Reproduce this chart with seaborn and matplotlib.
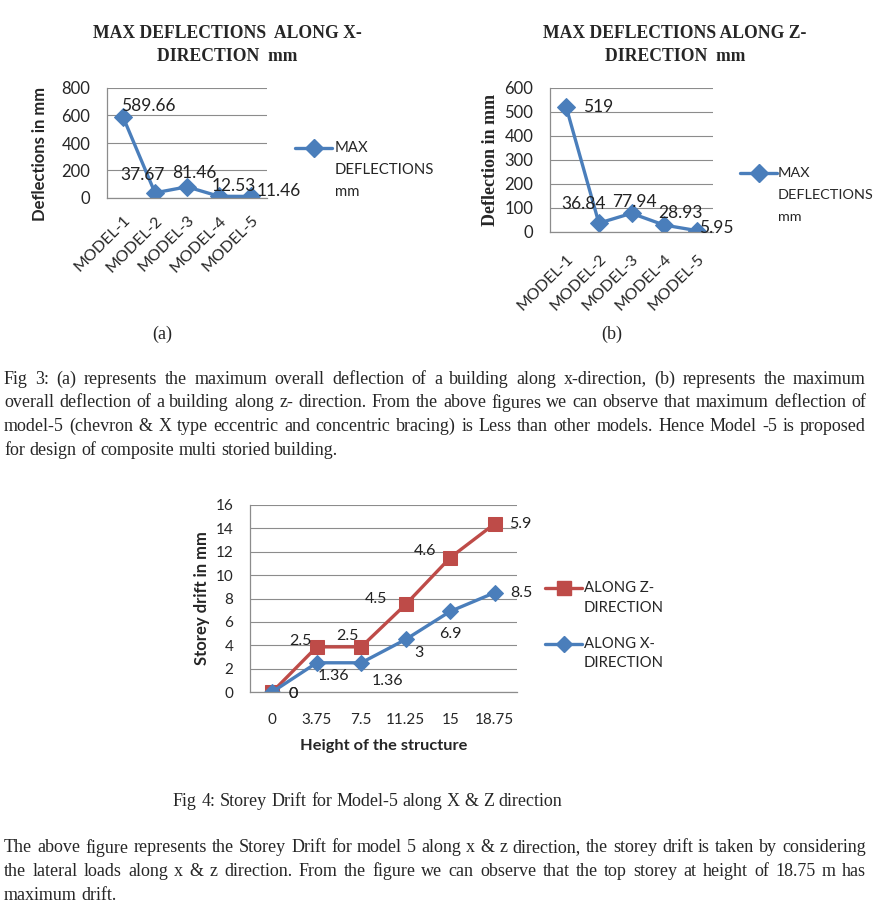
import matplotlib
matplotlib.use("Agg")
import matplotlib.pyplot as plt
from matplotlib.lines import Line2D
import seaborn as sns
import numpy as np

# chart data
models = ["MODEL-1", "MODEL-2", "MODEL-3", "MODEL-4", "MODEL-5"]
defl_x = [589.66, 37.67, 81.46, 12.53, 11.46]
defl_z = [519, 36.84, 77.94, 28.93, 5.95]

heights = ["0", "3.75", "7.5", "11.25", "15", "18.75"]
drift_x = [0, 2.5, 2.5, 4.5, 6.9, 8.5]
drift_z = [0, 1.36, 1.36, 3, 4.6, 5.9]   # stacked on top of drift_x
labels_z = ["0", "2.5", "2.5", "4.5", "4.6", "5.9"]
labels_x = ["0", "1.36", "1.36", "3", "6.9", "8.5"]

BLUE = "#4A7EBB"
RED = "#BE4B48"
GRID = "#8C8C8C"
W, H = 876, 909

sns.set_style("white")
plt.rcParams["font.family"] = ["Lato", "DejaVu Sans"]
SERIF = ["Liberation Serif", "DejaVu Serif"]

fig = plt.figure(figsize=(W / 100, H / 100), dpi=100)


def px_axes(l, t, r, b):
    return fig.add_axes([l / W, 1 - b / H, (r - l) / W, (b - t) / H])


def style_axes(ax, ymax, ystep, n, ticks_below, fs=11):
    ax.set_ylim(0, ymax)
    ax.set_yticks(np.arange(0, ymax + ystep / 2, ystep))
    ax.set_xlim(-0.5, n - 0.5)
    ax.grid(axis="y", color=GRID, linewidth=0.8)
    ax.grid(axis="x", visible=False)
    for s in ["top", "right"]:
        ax.spines[s].set_visible(False)
    for s in ["left", "bottom"]:
        ax.spines[s].set_color(GRID)
        ax.spines[s].set_linewidth(0.9)
    ax.tick_params(axis="y", length=4, color=GRID, pad=8, labelsize=fs)
    ax.tick_params(axis="x", which="major", length=0, labelsize=fs)
    if ticks_below:
        ax.set_xticks(np.arange(-0.5, n, 1.0), minor=True)
        ax.tick_params(axis="x", which="minor", length=6, color=GRID, direction="out")
    ax.set_xlabel("")
    ax.set_ylabel("")


def annotate(ax, xs, ys, texts, offsets, fs=12):
    for x, y, t, (dx, dy) in zip(xs, ys, texts, offsets):
        ax.annotate(t, (x, y), xytext=(dx, dy), textcoords="offset pixels",
                    ha="center", va="center", fontsize=fs, color="#222222")


def legend_entry(x0, x1, y, color, marker, ms, lines, tx, fs=10.7, dy=22):
    fy = 1 - y / H
    fig.add_artist(Line2D([x0 / W, x1 / W], [fy, fy], transform=fig.transFigure,
                          color=color, lw=2.4))
    fig.add_artist(Line2D([(x0 + x1) / 2 / W], [fy], transform=fig.transFigure,
                          color=color, marker=marker, ms=ms, ls="none"))
    for i, ln in enumerate(lines):
        fig.text(tx / W, 1 - (y + i * dy) / H, ln, ha="left", va="center", fontsize=fs)


# ---------- (a) max deflection along X ----------
ax1 = px_axes(107, 88, 267, 198)
pos = np.arange(len(models))
sns.lineplot(x=pos, y=defl_x, ax=ax1, color=BLUE, linewidth=2.4, marker="D",
             markersize=9, markeredgecolor=BLUE)
style_axes(ax1, 800, 200, 5, False, fs=12)
ax1.set_xticks(pos)
ax1.set_xticklabels(models, rotation=45, ha="right", rotation_mode="anchor", fontsize=11.5)
ax1.tick_params(axis="x", pad=11)
annotate(ax1, pos, defl_x, [f"{v:g}" for v in defl_x],
         [(25, 11), (-12, 18), (7, 14), (15, 10), (28, 5)], fs=12.5)
legend_entry(295, 332, 148, BLUE, "D", 9, ["MAX", "DEFLECTIONS", "mm"], 335)
fig.text(40 / W, 1 - 154 / H, "Deflections in mm", rotation=90, ha="center",
         va="center", fontsize=12, fontweight="bold")
fig.text(227 / W, 1 - 45 / H, "MAX DEFLECTIONS  ALONG X-\nDIRECTION  mm",
         ha="center", va="center", family=SERIF, fontsize=12.7,
         fontweight="bold", linespacing=1.4)

# ---------- (b) max deflection along Z ----------
ax2 = px_axes(550, 88, 713, 232)
sns.lineplot(x=pos, y=defl_z, ax=ax2, color=BLUE, linewidth=2.4, marker="D",
             markersize=9, markeredgecolor=BLUE)
style_axes(ax2, 600, 100, 5, True, fs=12)
ax2.set_xticks(pos)
ax2.set_xticklabels(models, rotation=45, ha="right", rotation_mode="anchor", fontsize=11.5)
ax2.tick_params(axis="x", pad=14)
annotate(ax2, pos, defl_z, [f"{v:g}" for v in defl_z],
         [(32, 0), (-15, 19), (3, 11), (16, 12), (20, 3)], fs=12.5)
legend_entry(740, 777, 173, BLUE, "D", 9, ["MAX", "DEFLECTIONS", "mm"], 778, fs=10.4)
fig.text(490 / W, 1 - 160 / H, "Deflection in mm", rotation=90, ha="center",
         va="center", family=SERIF, fontsize=13, fontweight="bold")
fig.text(675 / W, 1 - 45 / H, "MAX DEFLECTIONS ALONG Z-\nDIRECTION  mm",
         ha="center", va="center", family=SERIF, fontsize=12.7,
         fontweight="bold", linespacing=1.4)

fig.text(162 / W, 1 - 334 / H, "(a)", ha="center", va="center", family=SERIF, fontsize=13)
fig.text(612 / W, 1 - 334 / H, "(b)", ha="center", va="center", family=SERIF, fontsize=13)

# ---------- storey drift ----------
ax3 = px_axes(250, 505, 517, 692)
hpos = np.arange(len(heights))
top_z = np.array(drift_x) + np.array(drift_z)
sns.lineplot(x=hpos, y=top_z, ax=ax3, color=RED, linewidth=2.4, marker="s",
             markersize=10, markeredgecolor=RED)
sns.lineplot(x=hpos, y=drift_x, ax=ax3, color=BLUE, linewidth=2.4, marker="D",
             markersize=8, markeredgecolor=BLUE)
style_axes(ax3, 16, 2, 6, True, fs=11)
ax3.set_xticks(hpos)
ax3.set_xticklabels(heights)
ax3.tick_params(axis="x", pad=15)
annotate(ax3, hpos, top_z, labels_z,
         [(21, -2), (-16, 6), (-14, 11), (-30, 5), (-25, 7), (26, 0)], fs=11.5)
annotate(ax3, hpos, drift_x, labels_x,
         [(21, -2), (17, -13), (26, -18), (13, -14), (0, -23), (27, 0)], fs=11.5)
legend_entry(545, 582, 588, RED, "s", 10, ["ALONG Z-", "DIRECTION"], 584, dy=20)
legend_entry(545, 582, 644, BLUE, "D", 8, ["ALONG X-", "DIRECTION"], 584, dy=19)
ax3.set_ylabel("Storey drift in mm", fontsize=12, fontweight="bold", labelpad=4)
ax3.set_xlabel("Height of the structure", fontsize=11.8, fontweight="bold", labelpad=9)

# ---------- body text ----------
renderer = fig.canvas.get_renderer()


def text_line(line, y, x0=4, x1=866, justify=True, fs=13):
    words = line.split(" ")
    arts = [fig.text(0, 1 - y / H, w, ha="left", va="center", family=SERIF,
                     fontsize=fs) for w in words]
    widths = [a.get_window_extent(renderer).width for a in arts]
    if justify and len(words) > 1:
        gap = (x1 - x0 - sum(widths)) / (len(words) - 1)
    else:
        gap = fs * 100 / 72 * 0.25
    x = x0
    for a, w in zip(arts, widths):
        a.set_x(x / W)
        x += w + gap


para1 = [
    "Fig 3: (a) represents the maximum overall deflection of a building along x-direction, (b) represents the maximum",
    "overall deflection of a building along z- direction. From the above figures we can observe that maximum deflection of",
    "model-5 (chevron & X type eccentric and concentric bracing) is Less than other models. Hence Model -5 is proposed",
    "for design of composite multi storied building.",
]
for i, ln in enumerate(para1):
    text_line(ln, 379 + i * 23.7, justify=(i < len(para1) - 1))

text_line("Fig 4: Storey Drift for Model-5 along X & Z direction", 802, x0=173, justify=False)

para2 = [
    "The above figure represents the Storey Drift for model 5 along x & z direction, the storey drift is taken by considering",
    "the lateral loads along x & z direction. From the figure we can observe that the top storey at height of 18.75 m has",
    "maximum drift.",
]
for i, ln in enumerate(para2):
    text_line(ln, 848 + i * 23.5, justify=(i < len(para2) - 1))

fig.savefig("out.png", dpi=100)
